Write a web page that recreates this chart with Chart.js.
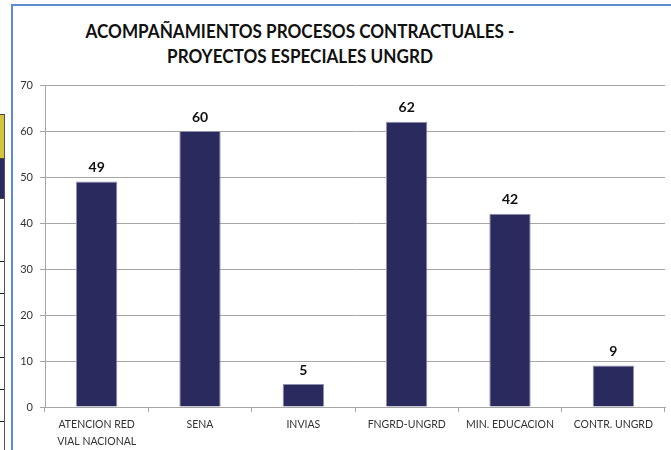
<!DOCTYPE html>
<html lang="es">
<head>
    <meta charset="UTF-8">
    <title>Acompañamientos procesos contractuales</title>
    <script src="https://cdn.jsdelivr.net/npm/chart.js"></script>
    <style>
        body { margin: 0; background: #fff; width: 671px; height: 450px; overflow: hidden; position: relative; }
        #frame { position: absolute; left: 11px; top: 4px; width: 700px; height: 480px; border: 2px solid #5b8bd0; box-sizing: border-box; }
        #tbl { position: absolute; left: -2px; top: 114px; width: 7px; height: 340px; border: 1px solid #555; border-top-color: #444; box-sizing: border-box; }
        #tbl .yel { height: 43px; background: #d4c43c; border-bottom: 1px solid #444; }
        #tbl .nav { height: 39px; background: #2b2a5e; border-bottom: 1px solid #444; }
        #tbl .row { height: 31px; border-bottom: 1px solid #222; }
        #tbl .first { height: 62px; }
        #title { position: absolute; left: 40px; top: 18px; width: 520px; text-align: center;
                 font: bold 19px Lato, sans-serif; line-height: 25px; color: #111;
                 transform: scaleX(0.9); transform-origin: 260px 0; }
        #wrap { position: absolute; left: 0; top: 0; width: 671px; height: 450px; }
    </style>
</head>
<body>
    <div id="tbl">
        <div class="yel"></div>
        <div class="nav"></div>
        <div class="row first"></div>
        <div class="row"></div>
        <div class="row"></div>
        <div class="row"></div>
        <div class="row"></div>
        <div class="row"></div>
    </div>
    <div id="frame"></div>
    <div id="title">ACOMPAÑAMIENTOS PROCESOS CONTRACTUALES -<br>PROYECTOS ESPECIALES UNGRD</div>
    <div id="wrap"><canvas id="chartCanvas" width="671" height="450"></canvas></div>

    <script>
        const categories = [
            ['ATENCION RED', 'VIAL NACIONAL'],
            'SENA',
            'INVIAS',
            'FNGRD-UNGRD',
            'MIN. EDUCACION',
            'CONTR. UNGRD'
        ];
        const values = [49, 60, 5, 62, 42, 9];
        const yTicks = [0, 10, 20, 30, 40, 50, 60, 70];

        // value labels above the bars
        const barLabels = {
            id: 'barLabels',
            afterDatasetsDraw(chart) {
                const ctx = chart.ctx;
                const meta = chart.getDatasetMeta(0);
                ctx.save();
                ctx.font = 'bold 14px Lato, sans-serif';
                ctx.fillStyle = '#111';
                ctx.textAlign = 'center';
                ctx.textBaseline = 'bottom';
                meta.data.forEach((bar, i) => {
                    ctx.fillText(values[i], bar.x, bar.y - 7);
                });
                ctx.restore();
            }
        };

        const ctx = document.getElementById('chartCanvas').getContext('2d');
        const chart = new Chart(ctx, {
            type: 'bar',
            data: {
                labels: categories,
                datasets: [{
                    data: values,
                    backgroundColor: '#2b2a5e',
                    borderColor: '#8f8fae',
                    borderWidth: 1,
                    barPercentage: 0.8,
                    categoryPercentage: 0.5
                }]
            },
            options: {
                responsive: false,
                animation: false,
                layout: { padding: { left: 14, top: 85, right: 6, bottom: 0 } },
                plugins: {
                    legend: { display: false },
                    tooltip: { enabled: false }
                },
                scales: {
                    x: {
                        grid: { drawOnChartArea: false, drawTicks: true, tickLength: 5, color: '#a6a6a6' },
                        border: { color: '#a6a6a6' },
                        ticks: {
                            color: '#333',
                            font: { family: 'Lato, sans-serif', size: 10.5, lineHeight: 1.6 },
                            padding: 4,
                            maxRotation: 0,
                            autoSkip: false
                        },
                        afterFit(scale) {
                            scale.height = 43;
                            scale.paddingLeft = 0;
                            scale.paddingRight = 0;
                        }
                    },
                    y: {
                        min: 0,
                        max: 70,
                        afterBuildTicks(scale) {
                            scale.ticks = yTicks.map(v => ({ value: v }));
                        },
                        grid: { color: '#a6a6a6', tickLength: 5 },
                        border: { color: '#a6a6a6' },
                        ticks: {
                            color: '#333',
                            font: { family: 'Lato, sans-serif', size: 11 },
                            padding: 7
                        },
                        afterFit(scale) {
                            scale.width = 31;
                            scale.paddingTop = 0;
                            scale.paddingBottom = 0;
                        }
                    }
                }
            },
            plugins: [barLabels]
        });
    </script>
</body>
</html>
